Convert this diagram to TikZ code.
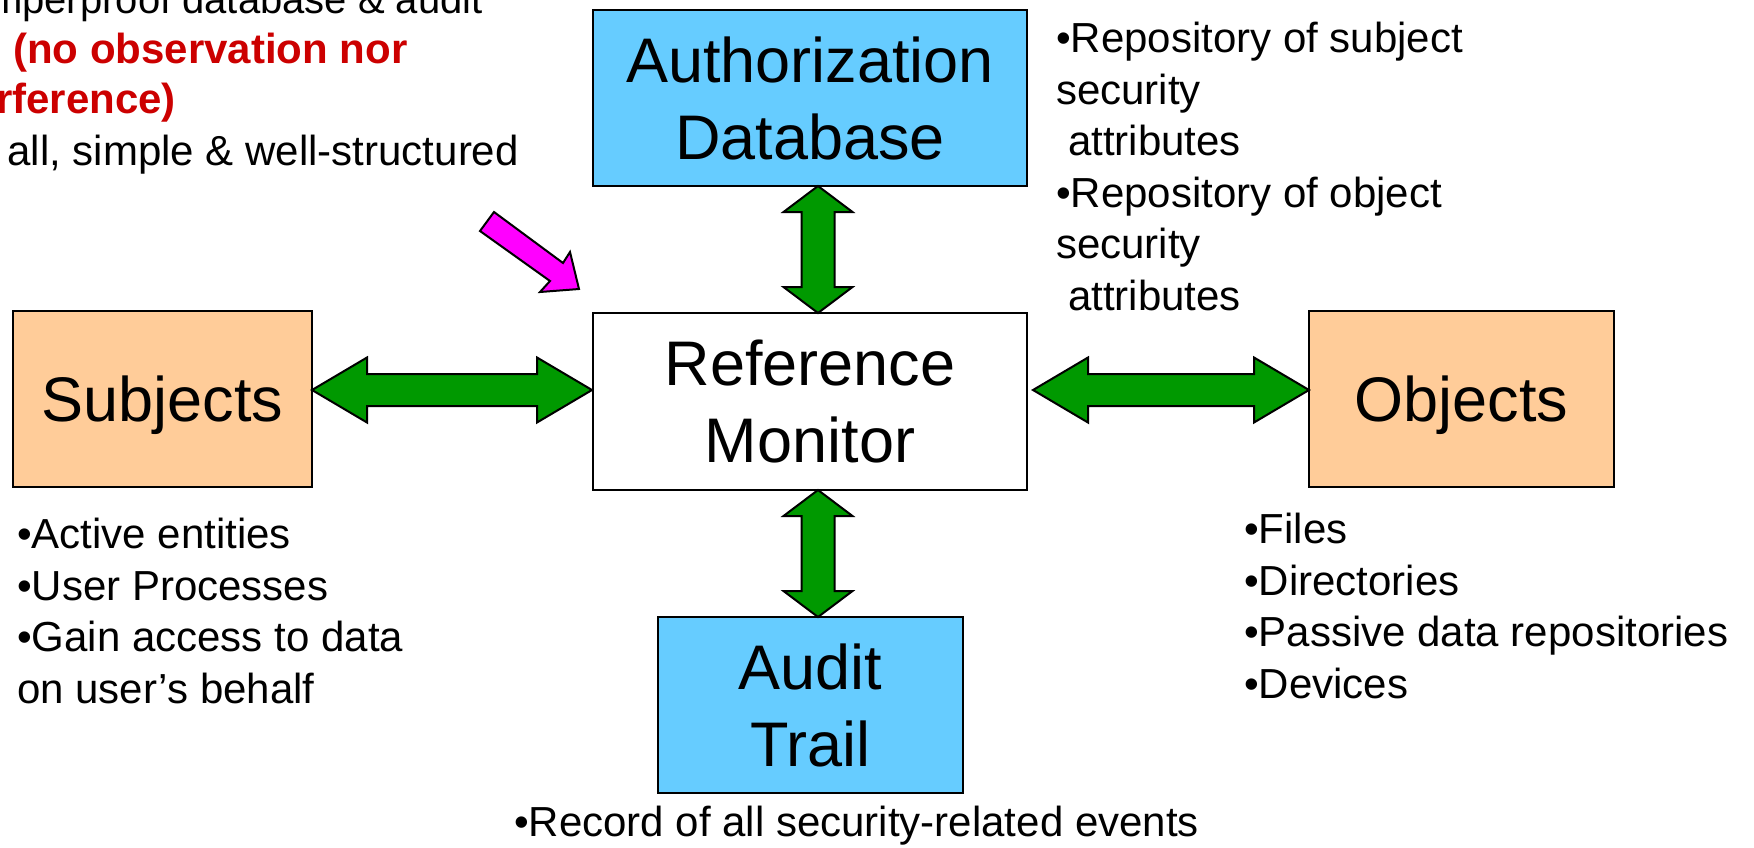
\documentclass[tikz,border=0pt]{standalone}
\usepackage{fontspec}
\setmainfont{Liberation Sans}
\usetikzlibrary{calc}
\definecolor{boxblue}{HTML}{66CCFF}
\definecolor{boxpeach}{HTML}{FFCC99}
\definecolor{arrgreen}{HTML}{009900}
\definecolor{txtred}{HTML}{CC0000}
\definecolor{magentaA}{HTML}{FF00FF}
\newcommand{\HDarrow}[2]{%
  \draw[bigarrow] (#1) -- ++(55,-32.5) -- ++(0,16.5) -- ($(#2)+(-55,-16)$) -- ++(0,-16.5) -- (#2)
    -- ++(-55,32.5) -- ++(0,-16.5) -- ($(#1)+(55,16)$) -- ++(0,16.5) -- cycle;}
\newcommand{\VDarrow}[2]{%
  \draw[bigarrow] (#1) -- ++(34.5,26) -- ++(-18,0) -- ($(#2)+(16.5,-26)$) -- ++(18,0) -- (#2)
    -- ++(-34.5,-26) -- ++(18,0) -- ($(#1)+(-16.5,26)$) -- ++(-18,0) -- cycle;}
\begin{document}
\begin{tikzpicture}[x=1pt,y=-1pt,
  box/.style={draw=black, line width=2pt, inner sep=0pt, outer sep=0pt, align=center,
    text depth=0pt, font=\fontsize{63}{77}\selectfont},
  bluebox/.style={box, fill=boxblue},
  peachbox/.style={box, fill=boxpeach},
  whitebox/.style={box, fill=white},
  bigarrow/.style={draw=black, line width=2pt, fill=arrgreen, line join=miter},
  magarrow/.style={draw=black, line width=2pt, fill=magentaA, line join=miter},
  note/.style={font=\fontsize{42}{51.5}\selectfont, align=left, inner sep=0pt, anchor=base west},
  topnote/.style={font=\fontsize{42}{51}\selectfont, inner sep=0pt},
  rednote/.style={font=\fontsize{42}{51}\selectfont\bfseries, text=txtred, inner sep=0pt}]
\useasboundingbox (0,0) rectangle (1754,847);
\clip (0,0) rectangle (1754,847);
\fill[white] (0,0) rectangle (1754,847);

% boxes
\node[bluebox, minimum width=434pt, minimum height=176pt] (auth) at (810,98) {Authorization\\Database};
\node[whitebox, minimum width=434pt, minimum height=177pt] (rm) at (810,401.5) {Reference\\Monitor};
\node[peachbox, minimum width=299pt, minimum height=176pt] (subj) at (162.5,399) {Subjects};
\node[peachbox, minimum width=305pt, minimum height=176pt] (obj) at (1461.5,399) {Objects};
\node[bluebox, minimum width=305pt, minimum height=176pt] (audit) at (810.5,705) {Audit\\Trail};

% arrow end points
\coordinate (hL1) at ($(subj.east)+(0,-9)$);
\coordinate (hR1) at ($(rm.west)+(-1,-11.5)$);
\coordinate (hL2) at ($(rm.east)+(6,-11.5)$);
\coordinate (hR2) at ($(obj.west)+(0,-9)$);
\coordinate (vT1) at ($(auth.south)+(8,0)$);
\coordinate (vB1) at ($(rm.north)+(8,0)$);
\coordinate (vT2) at ($(rm.south)+(8,0)$);
\coordinate (vB2) at ($(audit.north)+(7.5,0)$);

\HDarrow{hL1}{hR1}
\HDarrow{hL2}{hR2}
\VDarrow{vT1}{vB1}
\VDarrow{vT2}{vB2}

% magenta pointer arrow
\draw[magarrow] (494,212) -- (563,263) -- (570,252) -- (579,289) -- (540,292) -- (550,281) -- (480,231) -- cycle;

% top-left (clipped) text
\node[topnote, font=\fontsize{40}{51}\selectfont, anchor=base east] (tl1) at (483,13) {mperproof database \& audit};
\node[rednote, anchor=base west] (tl2) at (13,63) {(no observation nor};
\node[rednote, anchor=base east] (tl3) at (176,113) {rference)};
\node[topnote, anchor=base east] (tl4) at (519,165) {all, simple \& well-structured};

% notes (base anchor = baseline of last line)
\node[note] (authnote) at (1056,310) {•Repository of subject\\security\\\hspace*{12pt}attributes\\•Repository of object\\security\\\hspace*{12pt}attributes};
\node[note] (subjnote) at (17,703) {•Active entities\\•User Processes\\•Gain access to data\\on user’s behalf};
\node[note] (objnote) at (1244,698) {•Files\\•Directories\\•Passive data repositories\\•Devices};
\node[note] (auditnote) at (514,836) {•Record of all security-related events};
\end{tikzpicture}
\end{document}
